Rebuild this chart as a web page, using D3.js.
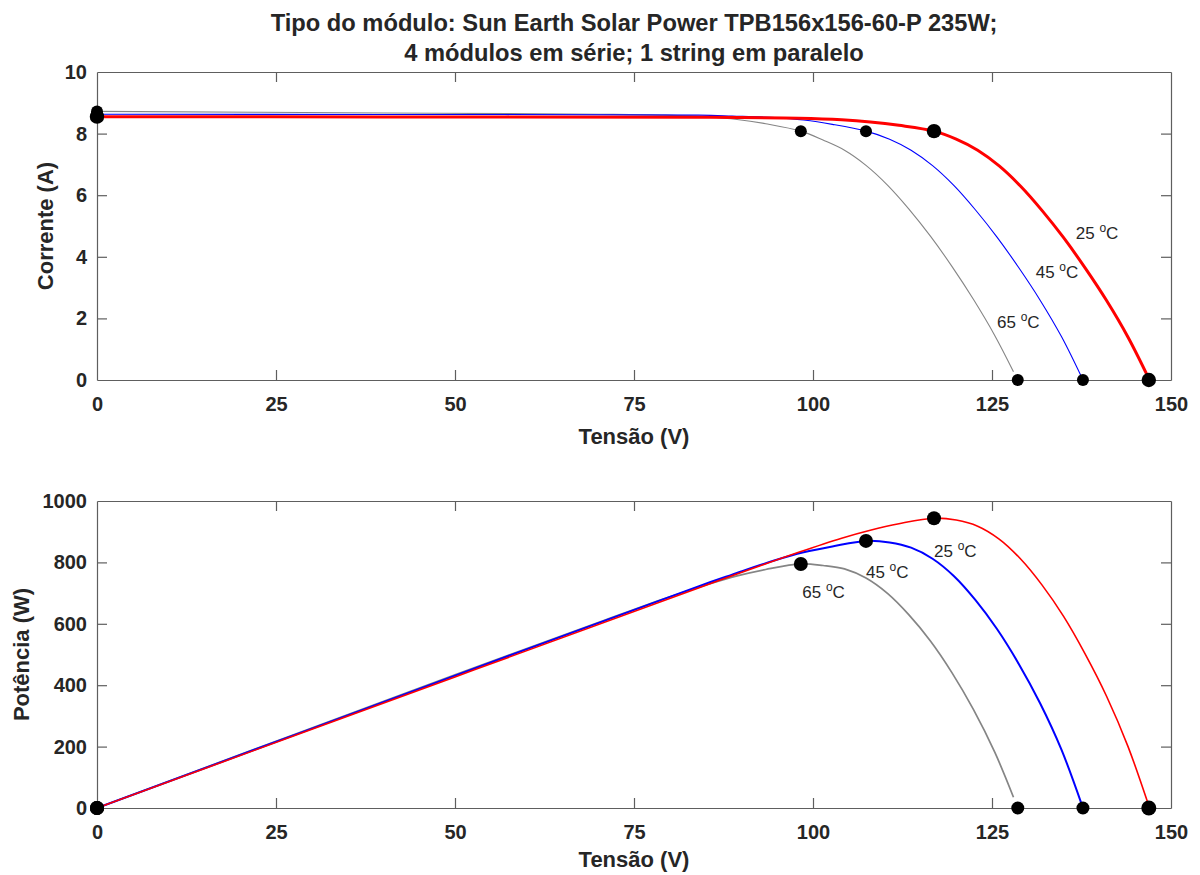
<!DOCTYPE html>
<html>
<head>
<meta charset="utf-8">
<script src="https://cdn.jsdelivr.net/npm/d3@7"></script>
<style>
  body { margin: 0; background: #fff; }
  svg text { font-family: "Liberation Sans", Arial, Helvetica, sans-serif; }
</style>
</head>
<body>
<svg id="chart" width="1200" height="875"></svg>
<script>
// ---- Data -------------------------------------------------------------
const titleLines = [
  "Tipo do módulo: Sun Earth Solar Power TPB156x156-60-P 235W;",
  "4 módulos em série; 1 string em paralelo"
];
const voltageTicks = [0, 25, 50, 75, 100, 125, 150];
const currentTicks = [0, 2, 4, 6, 8, 10];
const powerTicks = [0, 200, 400, 600, 800, 1000];
const temperatures = [25, 45, 65];

// I-V curves (voltage in V, current in A)
const ivV25 = [0, 40, 84, 98, 104, 108, 112, 116.9, 120, 123, 126, 129, 132, 135, 138, 141, 144, 146.9];
const ivI25 = [8.55, 8.54, 8.53, 8.50, 8.45, 8.38, 8.27, 8.08, 7.82, 7.46, 6.95, 6.29, 5.50, 4.62, 3.64, 2.58, 1.39, 0.05];
const ivV45 = [0, 40, 84, 88.7, 94.7, 98.7, 102.7, 107.4, 110.7, 113.7, 116.7, 119.7, 122.7, 125.7, 128.7, 131.7, 134.7, 137.6];
const ivI45 = [8.63, 8.62, 8.60, 8.57, 8.52, 8.44, 8.30, 8.08, 7.82, 7.46, 6.96, 6.31, 5.52, 4.64, 3.66, 2.60, 1.41, 0.05];
const ivV65 = [0, 40, 70, 79.4, 85.4, 89.4, 93.4, 98.3, 101.4, 104.4, 107.4, 110.4, 113.4, 116.4, 119.4, 122.4, 125.4, 128.0];
const ivI65 = [8.72, 8.67, 8.63, 8.60, 8.54, 8.46, 8.32, 8.08, 7.79, 7.46, 6.97, 6.33, 5.55, 4.67, 3.69, 2.62, 1.44, 0.27];

// P-V curves (voltage in V, power in W)
const pvV25 = [0, 50, 84, 98, 104, 108, 112, 116.9, 120, 123, 126, 129, 132, 135, 138, 141, 144, 146.9];
const pvP25 = [0, 427, 717, 833, 879, 905, 926, 944, 938, 918, 876, 811, 726, 624, 502, 364, 200, 7];
const pvV45 = [0, 50, 84, 88.7, 94.7, 98.7, 102.7, 107.4, 110.7, 113.7, 116.7, 119.7, 122.7, 125.7, 128.7, 131.7, 134.7, 137.6];
const pvP45 = [0, 431, 722, 760, 807, 833, 852, 870, 865, 848, 812, 755, 677, 583, 471, 342, 190, 7];
const pvV65 = [0, 50, 70, 79.4, 85.4, 89.4, 93.4, 98.3, 101.4, 104.4, 107.4, 110.4, 113.4, 116.4, 119.4, 122.4, 125.4, 128.0];
const pvP65 = [0, 434, 604, 683, 729, 756, 777, 795, 790, 779, 749, 699, 629, 544, 441, 321, 181, 35];

// Key points per temperature: short circuit, maximum power, open circuit
const iscCurrent = [8.55, 8.63, 8.72];
const mppVoltage = [116.9, 107.4, 98.3];
const mppCurrent = [8.08, 8.08, 8.08];
const mppPower = [944, 870, 795];
const vocVoltage = [146.9, 137.7, 128.6];

// Temperature tag anchors (data units)
const ivTagV = [136.7, 131.1, 125.7];
const ivTagI = [4.58, 3.30, 1.68];
const pvTagV = [116.9, 107.4, 98.5];
const pvTagP = [818, 749, 684];

// ---- Styles -----------------------------------------------------------
const seriesColor = { 25: "#ff0000", 45: "#0000ff", 65: "#858585" };
const ivWidth = { 25: 3, 45: 1.1, 65: 1.1 };
const pvWidth = { 25: 1.6, 45: 2, 65: 1.7 };
const textColor = "#262626";
const axisColor = "#5e5e5e";

const zip = (xs, ys) => xs.map((x, i) => [x, ys[i]]);
const ivSeries = [
  { t: 65, pts: zip(ivV65, ivI65) },
  { t: 45, pts: zip(ivV45, ivI45) },
  { t: 25, pts: zip(ivV25, ivI25) }
];
const pvSeries = [
  { t: 65, pts: zip(pvV65, pvP65) },
  { t: 45, pts: zip(pvV45, pvP45) },
  { t: 25, pts: zip(pvV25, pvP25) }
];

const svg = d3.select("#chart");
const left = 97, right = 1171;

const x = d3.scaleLinear().domain([0, 150]).range([left, right]);
const yI = d3.scaleLinear().domain([0, 10]).range([380, 72]);
const yP = d3.scaleLinear().domain([0, 1000]).range([808, 501]);

// Title
svg.append("g").selectAll("text").data(titleLines).join("text")
  .attr("x", (left + right) / 2)
  .attr("y", (d, i) => 31 + i * 30)
  .attr("text-anchor", "middle")
  .attr("font-weight", "bold")
  .attr("font-size", 23.7)
  .attr("fill", textColor)
  .text(d => d);

function drawFrame(y, yTicks, yLabel, yLabelX, xLabelY) {
  const [y0, y1] = y.range();
  const g = svg.append("g");
  const tick = 10;
  const fmt = d3.format("d");

  const bottom = g.append("g").attr("transform", `translate(0,${y0})`)
    .call(d3.axisBottom(x).tickValues(voltageTicks).tickFormat(fmt).tickSizeInner(-tick).tickSizeOuter(0).tickPadding(17));
  const top = g.append("g").attr("transform", `translate(0,${y1})`)
    .call(d3.axisTop(x).tickValues(voltageTicks).tickSizeInner(-tick).tickSizeOuter(0).tickFormat(""));
  const leftAx = g.append("g").attr("transform", `translate(${left},0)`)
    .call(d3.axisLeft(y).tickValues(yTicks).tickFormat(fmt).tickSizeInner(-tick).tickSizeOuter(0).tickPadding(10));
  const rightAx = g.append("g").attr("transform", `translate(${right},0)`)
    .call(d3.axisRight(y).tickValues(yTicks).tickSizeInner(-tick).tickSizeOuter(0).tickFormat(""));

  [bottom, top, leftAx, rightAx].forEach(a => {
    a.selectAll(".domain").attr("stroke", axisColor).attr("stroke-width", 1.2);
    a.selectAll(".tick line").attr("stroke", axisColor).attr("stroke-width", 1.2);
    a.selectAll(".tick text")
      .attr("fill", textColor)
      .attr("font-size", 20)
      .attr("font-weight", "bold")
      .attr("font-family", '"Liberation Sans", Arial, sans-serif');
  });
  // ticks that would sit on the frame corners are dropped
  [bottom, top].forEach(a => a.selectAll(".tick line").filter(d => d === 0 || d === 150).remove());
  [leftAx, rightAx].forEach(a => a.selectAll(".tick line").filter(d => d === yTicks[0] || d === yTicks[yTicks.length - 1]).remove());

  g.append("text")
    .attr("x", (left + right) / 2).attr("y", xLabelY)
    .attr("text-anchor", "middle").attr("font-weight", "bold").attr("font-size", 22)
    .attr("fill", textColor).text("Tensão (V)");
  g.append("text")
    .attr("transform", `translate(${yLabelX},${(y0 + y1) / 2}) rotate(-90)`)
    .attr("text-anchor", "middle").attr("font-weight", "bold").attr("font-size", 22)
    .attr("fill", textColor).text(yLabel);
}

function drawCurves(y, series, widths) {
  const line = d3.line().x(d => x(d[0])).y(d => y(d[1])).curve(d3.curveCatmullRom.alpha(0.5));
  svg.append("g").selectAll("path").data(series).join("path")
    .attr("d", d => line(d.pts))
    .attr("fill", "none")
    .attr("stroke", d => seriesColor[d.t])
    .attr("stroke-width", d => widths[d.t])
    .attr("stroke-linejoin", "round");
}

function drawDots(pts) {
  svg.append("g").selectAll("circle").data(pts).join("circle")
    .attr("cx", d => d.cx).attr("cy", d => d.cy).attr("r", d => d.r)
    .attr("fill", "#000");
}

function drawTags(tags) {
  const t = svg.append("g").selectAll("text").data(tags).join("text")
    .attr("x", d => d.x).attr("y", d => d.y)
    .attr("font-size", 17).attr("fill", textColor);
  t.append("tspan").text(d => d.t + " ");
  t.append("tspan").attr("font-size", 12).attr("dy", -7).text("o");
  t.append("tspan").attr("dy", 7).text("C");
}

// ---- Upper panel: current vs voltage -----------------------------------
drawFrame(yI, currentTicks, "Corrente (A)", 53, 444);
drawCurves(yI, ivSeries, ivWidth);
const ivDots = [];
[2, 1, 0].forEach(i => {
  const r = i === 0 ? 7.2 : 6;
  ivDots.push({ cx: x(0), cy: yI(iscCurrent[i]), r });
  ivDots.push({ cx: x(mppVoltage[i]), cy: yI(mppCurrent[i]), r });
  ivDots.push({ cx: x(vocVoltage[i]), cy: yI(0), r });
});
drawDots(ivDots);
drawTags(temperatures.map((t, i) => ({ t, x: x(ivTagV[i]), y: yI(ivTagI[i]) })));

// ---- Lower panel: power vs voltage -------------------------------------
drawFrame(yP, powerTicks, "Potência (W)", 29, 867);
drawCurves(yP, pvSeries, pvWidth);
const pvDots = [];
[2, 1, 0].forEach(i => {
  pvDots.push({ cx: x(0), cy: yP(0), r: 7 });
  pvDots.push({ cx: x(mppVoltage[i]), cy: yP(mppPower[i]), r: 7 });
  pvDots.push({ cx: x(vocVoltage[i]), cy: yP(0), r: i === 0 ? 7.5 : 6.5 });
});
drawDots(pvDots);
drawTags(temperatures.map((t, i) => ({ t, x: x(pvTagV[i]), y: yP(pvTagP[i]) })));
</script>
</body>
</html>
